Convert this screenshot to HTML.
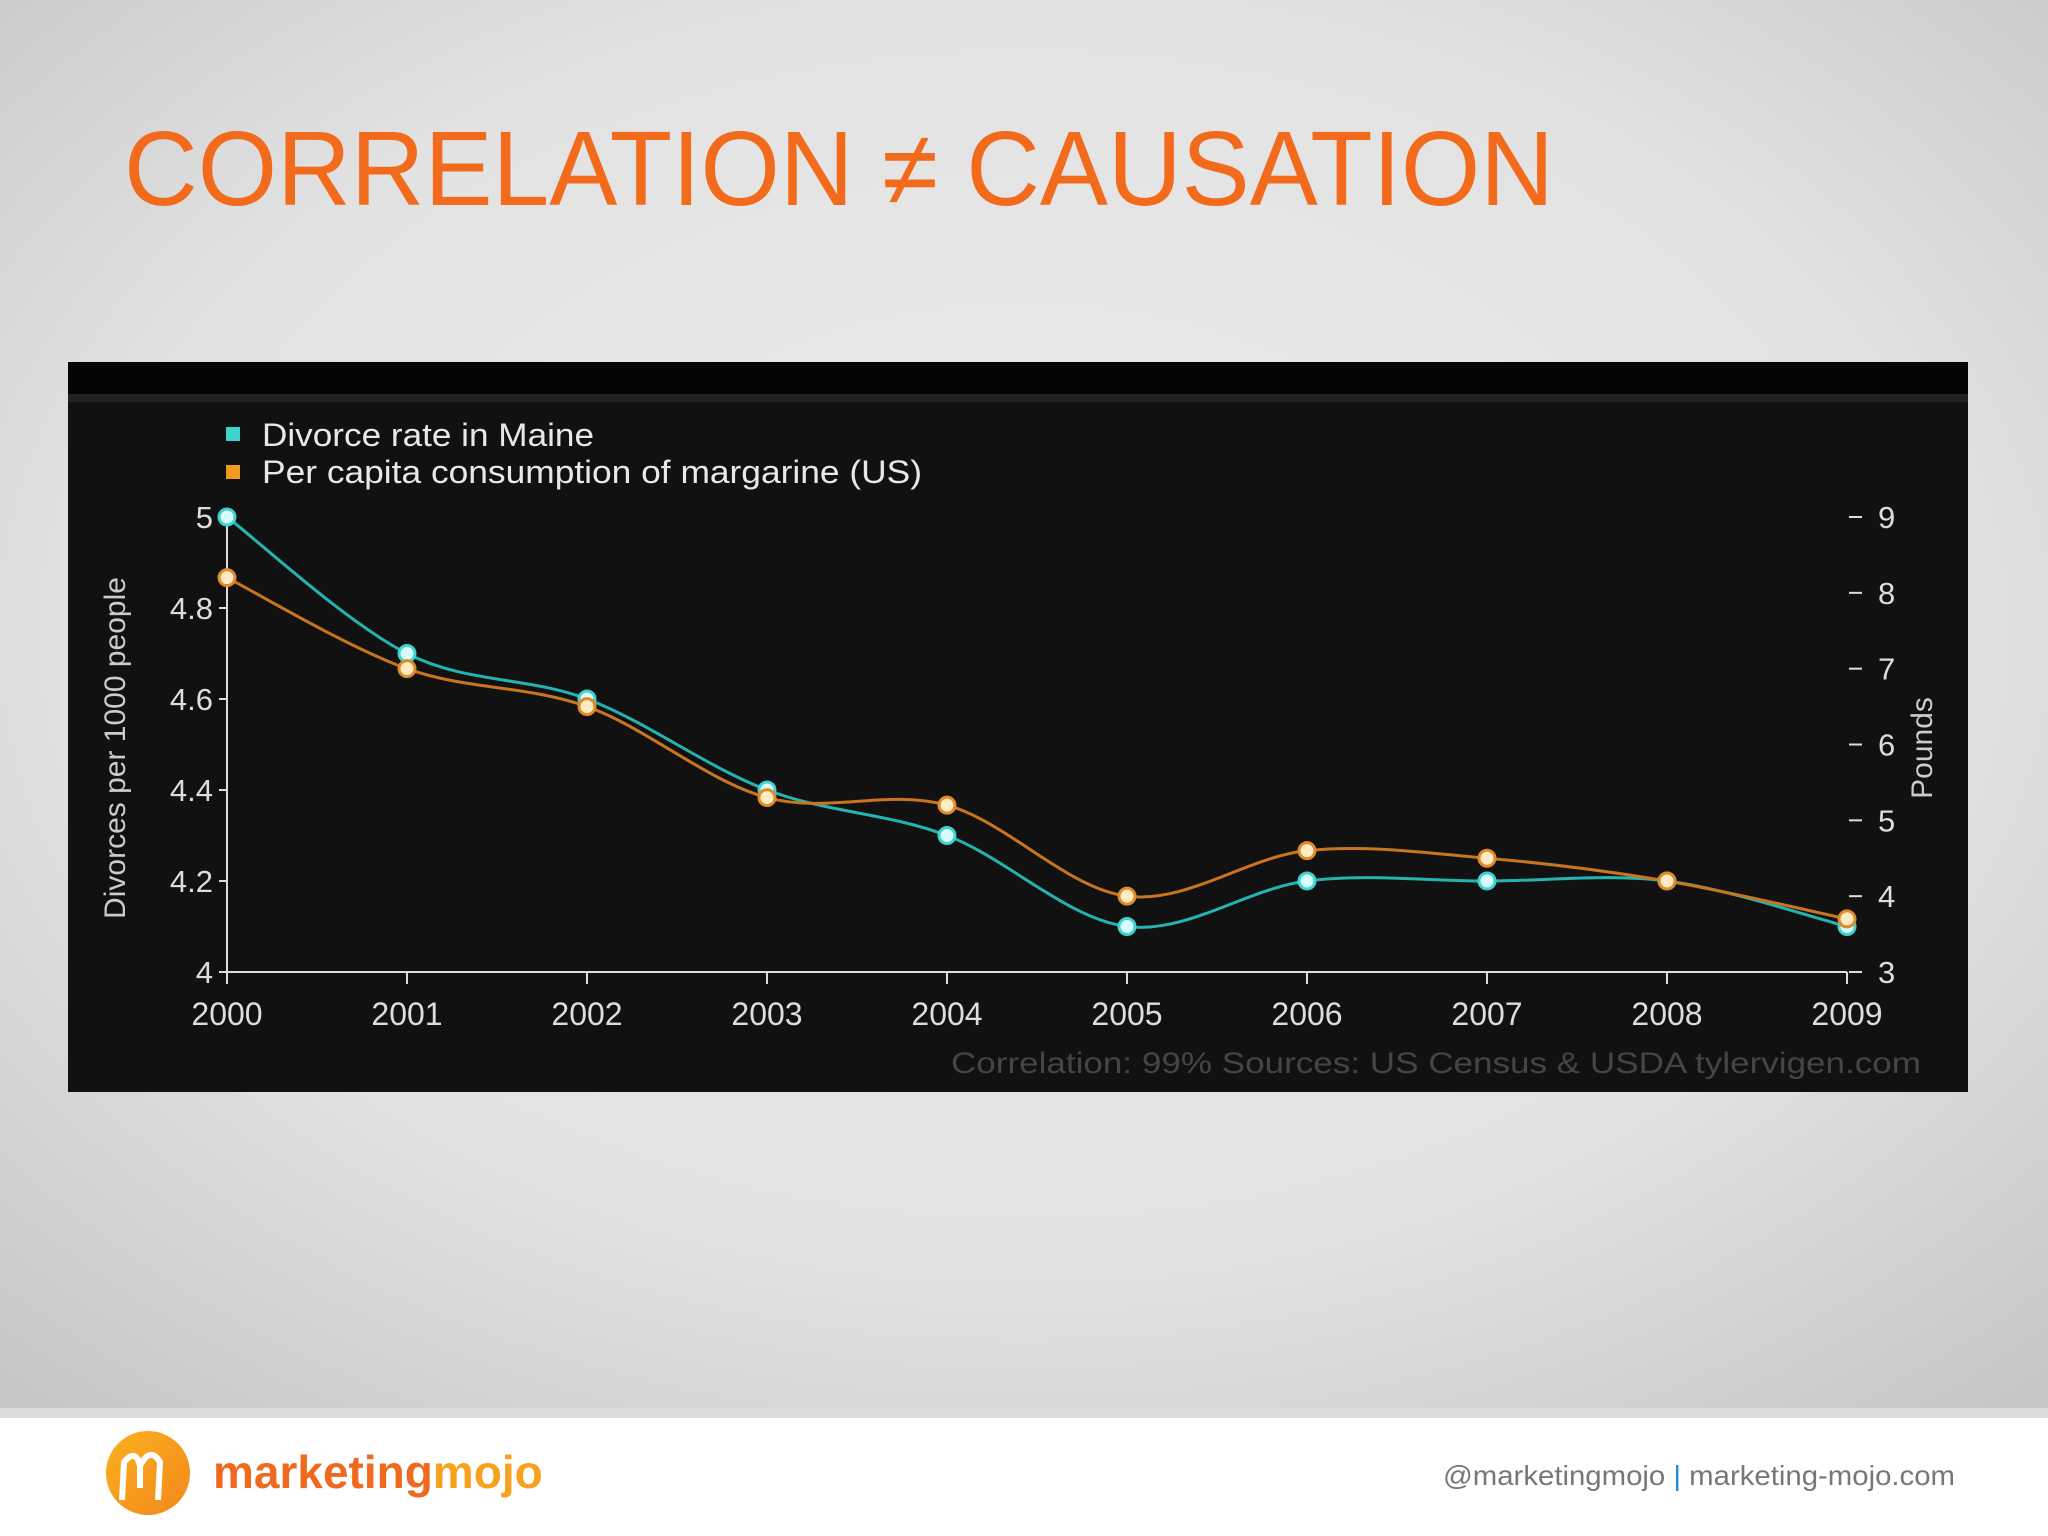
<!DOCTYPE html>
<html><head><meta charset="utf-8"><style>
html,body{margin:0;padding:0;width:2048px;height:1536px;overflow:hidden;}
body{font-family:"Liberation Sans",sans-serif;}
</style></head><body>
<svg id="slide" width="2048" height="1536" viewBox="0 0 2048 1536" xmlns="http://www.w3.org/2000/svg">
<defs>
<radialGradient id="bg" cx="0.5" cy="0.45" r="0.75">
<stop offset="0" stop-color="#ececec"/><stop offset="0.6" stop-color="#e2e2e2"/><stop offset="1" stop-color="#c4c4c4"/>
</radialGradient>
<linearGradient id="logo" x1="0" y1="0" x2="1" y2="1"><stop offset="0" stop-color="#fbb21f"/><stop offset="1" stop-color="#f3861b"/></linearGradient>
</defs>
<rect x="0" y="0" width="2048" height="1410" fill="url(#bg)"/>
<rect x="0" y="1408" width="2048" height="12" fill="#dcdcdc"/>
<rect x="0" y="1418" width="2048" height="118" fill="#ffffff"/>
<text x="124" y="205" font-size="106" fill="#f26b1d" textLength="1430" lengthAdjust="spacingAndGlyphs">CORRELATION ≠ CAUSATION</text>

<rect x="68" y="362" width="1900" height="730" fill="#111111"/>
<rect x="68" y="362" width="1900" height="32" fill="#050505"/>
<rect x="68" y="394" width="1900" height="8" fill="#222"/>
<g id="chart"></g>

<g>
<circle cx="148" cy="1473" r="42" fill="url(#logo)"/>
<path d="M122 1500 L124 1462 Q136 1448 140 1466 L140 1488 M140 1466 Q150 1446 160 1462 L158 1500" stroke="#fff" stroke-width="6" fill="none"/>
<text x="213" y="1488" font-size="46" font-weight="bold" fill="#ef6a1f">marketing<tspan fill="#f7a21e">mojo</tspan></text>
</g>
<text x="1443" y="1485" font-size="28" fill="#777" textLength="512" lengthAdjust="spacingAndGlyphs">@marketingmojo <tspan fill="#1f8fd0">|</tspan> marketing-mojo.com</text>
</svg>
<script>
const years = ["2000","2001","2002","2003","2004","2005","2006","2007","2008","2009"];
const divorceRate = [5.0,4.7,4.6,4.4,4.3,4.1,4.2,4.2,4.2,4.1];
const margarine = [8.2,7.0,6.5,5.3,5.2,4.0,4.6,4.5,4.2,3.7];
const leftTicks = [4,4.2,4.4,4.6,4.8,5];
const rightTicks = [3,4,5,6,7,8,9];

const NS="http://www.w3.org/2000/svg";
const g=document.getElementById('chart');
const X0=227,X1=1847,YB=972,YT=517;
const xs=i=>X0+(X1-X0)*i/(years.length-1);
const yl=v=>YB-(v-4)/(5-4)*(YB-YT);
const yr=v=>YB-(v-3)/(9-3)*(YB-YT);
function mk(t,a,txt){const e=document.createElementNS(NS,t);for(const k in a)e.setAttribute(k,a[k]);if(txt!==undefined)e.textContent=txt;g.appendChild(e);return e;}
const F='"Liberation Sans",sans-serif';

let e=mk('line',{x1:X0,y1:YT-5,x2:X0,y2:YB,stroke:'#ddd','stroke-width':2});


e=mk('line',{x1:X0,y1:YB,x2:X1,y2:YB,stroke:'#ddd','stroke-width':2});



leftTicks.forEach(v=>{
 const y=yl(v);
 e=mk('line',{x1:X0-8,y1:y,x2:X0,y2:y,stroke:'#ddd','stroke-width':2});
 
 
 e=mk('text',{x:X0-14,y:y+11,'font-size':31,fill:'#ddd','text-anchor':'end','font-family':F},String(v));
 
 
});
rightTicks.forEach(v=>{
 const y=yr(v);
 e=mk('line',{x1:1849,y1:y,x2:1862,y2:y,stroke:'#ddd','stroke-width':2});
 
 
 e=mk('text',{x:1878,y:y+11,'font-size':31,fill:'#ddd','font-family':F},String(v));
 
 
});
years.forEach((yv,i)=>{
 const x=xs(i);
 e=mk('line',{x1:x,y1:YB,x2:x,y2:YB+12,stroke:'#ddd','stroke-width':2});
 
 
 e=mk('text',{x:x,y:1025,'font-size':32,fill:'#ddd','text-anchor':'middle','font-family':F},yv);
 
 
});
e=mk('text',{x:0,y:0,'font-size':30,fill:'#ccc','text-anchor':'middle','font-family':F,transform:'translate(125,748) rotate(-90)'},'Divorces per 1000 people');


e=mk('text',{x:0,y:0,'font-size':30,fill:'#ccc','text-anchor':'middle','font-family':F,transform:'translate(1932,748) rotate(-90)'},'Pounds');



function smooth(pts){let d='M'+pts[0][0]+' '+pts[0][1];
 for(let i=0;i<pts.length-1;i++){const p0=pts[i-1]||pts[i],p1=pts[i],p2=pts[i+1],p3=pts[i+2]||p2;
  const c1=[p1[0]+(p2[0]-p0[0])/6,p1[1]+(p2[1]-p0[1])/6],c2=[p2[0]-(p3[0]-p1[0])/6,p2[1]-(p3[1]-p1[1])/6];
  d+=` C${c1[0]} ${c1[1]} ${c2[0]} ${c2[1]} ${p2[0]} ${p2[1]}`;}return d;}
const pm=margarine.map((v,i)=>[xs(i),yr(v)]);
const pd=divorceRate.map((v,i)=>[xs(i),yl(v)]);
e=mk('path',{d:smooth(pd),stroke:'#25b3b0','stroke-width':3,fill:'none'});


e=mk('path',{d:smooth(pm),stroke:'#c9741f','stroke-width':3,fill:'none'});


pd.forEach(p=>{e=mk('circle',{cx:p[0],cy:p[1],r:8,fill:'#d8fbfb',stroke:'#3fd3d0','stroke-width':3});
 
 });
pm.forEach(p=>{e=mk('circle',{cx:p[0],cy:p[1],r:8,fill:'#fdebc4',stroke:'#e08a2a','stroke-width':3});
 
 });

e=mk('rect',{x:226,y:427,width:14,height:14,fill:'#3fd3d0'});


e=mk('text',{x:262,y:446,'font-size':32,fill:'#e8e8e8','font-family':F,textLength:332,lengthAdjust:'spacingAndGlyphs'},'Divorce rate in Maine');


e=mk('rect',{x:226,y:465,width:14,height:14,fill:'#f09a1f'});


e=mk('text',{x:262,y:483,'font-size':32,fill:'#e8e8e8','font-family':F,textLength:660,lengthAdjust:'spacingAndGlyphs'},'Per capita consumption of margarine (US)');


e=mk('text',{x:951,y:1073,'font-size':30,fill:'#454545','font-family':F,textLength:970,lengthAdjust:'spacingAndGlyphs'},'Correlation: 99%    Sources: US Census & USDA    tylervigen.com');


</script>
</body></html>
